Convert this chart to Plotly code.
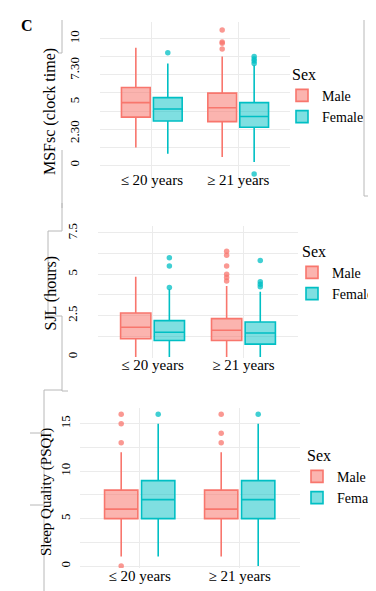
import plotly.graph_objects as go

categories = ["≤ 20 years", "≥ 21 years"]
sexes = ["Male", "Female"]

# ---- Panel 1: MSFsc (clock time) ----
msf_tickvals = [0, 2.5, 5, 7.5, 10]
msf_ticktext = ["0", "2.30", "5", "7.30", "10"]
msf_male_q1 = [3.8, 3.45]
msf_male_median = [4.95, 4.55]
msf_male_q3 = [6.15, 5.7]
msf_male_low = [1.4, 0.65]
msf_male_high = [9.3, 8.6]
msf_female_q1 = [3.5, 3.0]
msf_female_median = [4.45, 3.85]
msf_female_q3 = [5.35, 4.95]
msf_female_low = [0.9, 0.25]
msf_female_high = [8.05, 7.9]
msf_male_out = [[], [10.7, 9.75, 9.65, 9.2]]
msf_female_out = [[8.9], [8.6, 8.4, 8.25, 8.05, -0.7]]

# ---- Panel 2: SJL (hours) ----
sjl_tickvals = [0, 2.5, 5, 7.5]
sjl_ticktext = ["0", "2.5", "5", "7.5"]
sjl_male_q1 = [1.1, 1.0]
sjl_male_median = [1.8, 1.62]
sjl_male_q3 = [2.66, 2.32]
sjl_male_low = [0, 0]
sjl_male_high = [4.85, 4.3]
sjl_female_q1 = [1.0, 0.78]
sjl_female_median = [1.5, 1.45]
sjl_female_q3 = [2.2, 2.12]
sjl_female_low = [0, 0]
sjl_female_high = [4.1, 3.95]
sjl_male_out = [[], [6.4, 6.15, 5.5, 5.0, 4.8, 4.6]]
sjl_female_out = [[6.0, 5.5, 4.2], [5.83, 4.55, 4.4, 4.25]]

# ---- Panel 3: Sleep Quality (PSQI) ----
psqi_tickvals = [0, 5, 10, 15]
psqi_ticktext = ["0", "5", "10", "15"]
psqi_male_q1 = [5, 5]
psqi_male_median = [6, 6]
psqi_male_q3 = [8, 8]
psqi_male_low = [1, 1]
psqi_male_high = [12, 12]
psqi_female_q1 = [5, 5]
psqi_female_median = [7, 7]
psqi_female_q3 = [9, 9]
psqi_female_low = [1, 0]
psqi_female_high = [15, 15]
psqi_male_out = [[16, 15, 13, 0], [16, 14, 13]]
psqi_female_out = [[16], [16]]

line_colors = {"Male": "#F8766D", "Female": "#00BFC4"}
fill_colors = {"Male": "rgba(248,118,109,0.55)", "Female": "rgba(0,191,196,0.5)"}
FONT = "Liberation Serif"
GRID = "#EBEBEB"

W, H = 376, 591

panels = [
    dict(
        x="x", y="y", legend="legend",
        stats={
            "Male": (msf_male_q1, msf_male_median, msf_male_q3, msf_male_low, msf_male_high, msf_male_out),
            "Female": (msf_female_q1, msf_female_median, msf_female_q3, msf_female_low, msf_female_high, msf_female_out),
        },
    ),
    dict(
        x="x2", y="y2", legend="legend2",
        stats={
            "Male": (sjl_male_q1, sjl_male_median, sjl_male_q3, sjl_male_low, sjl_male_high, sjl_male_out),
            "Female": (sjl_female_q1, sjl_female_median, sjl_female_q3, sjl_female_low, sjl_female_high, sjl_female_out),
        },
    ),
    dict(
        x="x3", y="y3", legend="legend3",
        stats={
            "Male": (psqi_male_q1, psqi_male_median, psqi_male_q3, psqi_male_low, psqi_male_high, psqi_male_out),
            "Female": (psqi_female_q1, psqi_female_median, psqi_female_q3, psqi_female_low, psqi_female_high, psqi_female_out),
        },
    ),
]

fig = go.Figure()
for p in panels:
    for sex in sexes:
        q1, med, q3, lo, hi, outs = p["stats"][sex]
        fig.add_trace(go.Box(
            x=categories, q1=q1, median=med, q3=q3, lowerfence=lo, upperfence=hi,
            name=sex, legendgroup=sex + p["legend"], legend=p["legend"],
            offsetgroup=sex, boxpoints=False, whiskerwidth=0,
            line=dict(color=line_colors[sex], width=1.6),
            fillcolor=fill_colors[sex],
            xaxis=p["x"], yaxis=p["y"], hoverinfo="skip",
        ))
    for sex in sexes:
        outs = p["stats"][sex][5]
        xs, ys = [], []
        for cat, vals in zip(categories, outs):
            xs += [cat] * len(vals)
            ys += vals
        fig.add_trace(go.Scatter(
            x=xs, y=ys, mode="markers", offsetgroup=sex,
            marker=dict(color=line_colors[sex], size=5.5, opacity=0.75),
            showlegend=False, legend=p["legend"],
            xaxis=p["x"], yaxis=p["y"], hoverinfo="skip",
        ))

def px_dom_x(a, b):
    return [a / W, b / W]

def px_dom_y(top, bottom):
    return [1 - bottom / H, 1 - top / H]

xcommon = dict(type="category", categoryorder="array", categoryarray=categories,
               range=[-0.6, 1.6], showgrid=True, gridcolor=GRID, gridwidth=1,
               showline=False, zeroline=False, ticks="",
               tickfont=dict(family=FONT, size=15, color="black"))
ycommon = dict(showline=False, ticks="", tickangle=-90,
               tickfont=dict(family=FONT, size=13, color="black"))

# the MSFsc panel's horizontal grid is drawn at 1/7 steps of its 0-10 span
msf_grid = [k * 10 / 7 for k in range(1, 7)] + [10.0001]
msf_range = [-1.25, 11.33]

legend_common = dict(title=dict(text="\u00a0\u00a0Sex", font=dict(size=16)),
                     xanchor="left", yanchor="top",
                     font=dict(size=14), bgcolor="rgba(0,0,0,0)", tracegroupgap=0)

fig.update_layout(
    width=W, height=H, margin=dict(l=0, r=0, t=0, b=0, autoexpand=False),
    paper_bgcolor="white", plot_bgcolor="white",
    font=dict(family=FONT, color="black"),
    boxmode="group", boxgap=0.26, boxgroupgap=0.1,
    scattermode="group", scattergap=0.26,
    xaxis=dict(xcommon, domain=px_dom_x(92, 282), anchor="y", ticklabelstandoff=-12),
    yaxis=dict(ycommon, domain=px_dom_y(14, 173), anchor="x", range=msf_range,
               tickmode="array", tickvals=msf_tickvals, ticktext=msf_ticktext,
               showgrid=False, zeroline=True, zerolinecolor=GRID, zerolinewidth=1,
               minor=dict(tickmode="array", tickvals=msf_grid, showgrid=True,
                          gridcolor=GRID, gridwidth=1),
               ticklabelstandoff=17),
    xaxis2=dict(xcommon, domain=px_dom_x(90, 290), anchor="y2", ticklabelstandoff=-4),
    yaxis2=dict(ycommon, domain=px_dom_y(218, 350), anchor="x2", range=[-0.06, 7.92],
                zeroline=False,
                tickmode="array", tickvals=sjl_tickvals, ticktext=sjl_ticktext,
                minor=dict(tickmode="linear", tick0=0, dtick=1.25, showgrid=True, gridcolor=GRID),
                showgrid=True, gridcolor=GRID, ticklabelstandoff=17),
    xaxis3=dict(xcommon, domain=px_dom_x(71.7, 291.7), anchor="y3", ticklabelstandoff=-3),
    yaxis3=dict(ycommon, domain=px_dom_y(400, 560), anchor="x3", range=[-0.2, 16.65],
                zeroline=False,
                tickmode="array", tickvals=psqi_tickvals, ticktext=psqi_ticktext,
                minor=dict(tickmode="linear", tick0=0, dtick=2.5, showgrid=True, gridcolor=GRID),
                showgrid=True, gridcolor=GRID, ticklabelstandoff=6),
    legend=dict(legend_common, x=274 / W, y=1 - 51 / H),
    legend2=dict(legend_common, x=284 / W, y=1 - 228 / H),
    legend3=dict(legend_common, x=289 / W, y=1 - 432 / H),
)

# Axis titles and panel letter
titles = [("MSFsc (clock time)", 42, 104, 16), ("SJL (hours)", 42.5, 285, 16),
          ("Sleep Quality (PSQI)", 38, 484, 15)]
for text, cx, cy, size in titles:
    fig.add_annotation(text=text, x=cx / W, y=1 - cy / H, xref="paper", yref="paper",
                       textangle=-90, showarrow=False, xanchor="center", yanchor="middle",
                       font=dict(family=FONT, size=size, color="black"))
fig.add_annotation(text="<b>C</b>", x=19 / W, y=1 - 18 / H, xref="paper", yref="paper",
                   showarrow=False, xanchor="center", yanchor="middle",
                   font=dict(family=FONT, size=16, color="black"))

# Stray frame lines from the composited source figure
frame_lines = [
    (54, 12, 54, 45), (50, 45, 54, 45), (54, 142, 54, 200),
    (356, 12, 356, 188), (356, 188, 368, 188), (368, 188, 368, 200),
    (54, 195, 54, 223), (40, 223, 54, 223), (40, 223, 40, 308), (40, 308, 54, 308),
    (54, 308, 54, 383), (54, 383, 60, 383),
    (368, 195, 368, 380), (368, 380, 376, 380),
    (36, 382, 54, 382), (36, 382, 36, 591), (22, 425, 36, 425), (22, 497, 36, 497),
]
for x0, y0, x1, y1 in frame_lines:
    fig.add_shape(type="line", xref="paper", yref="paper",
                  x0=x0 / W, y0=1 - y0 / H, x1=x1 / W, y1=1 - y1 / H,
                  line=dict(color="#B8B8B8", width=1), layer="below")

fig.write_html("out.html")
